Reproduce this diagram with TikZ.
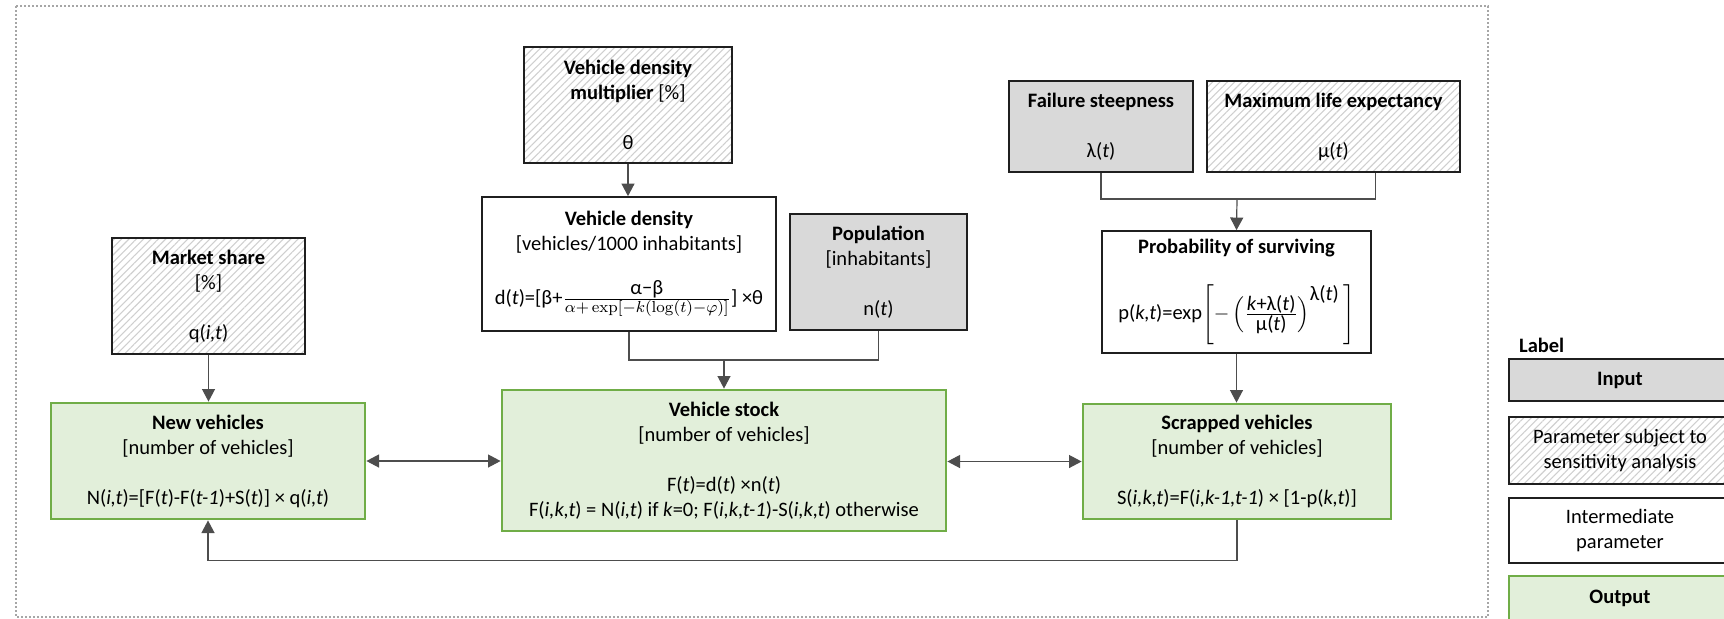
\documentclass[tikz,border=0pt]{standalone}
\usepackage{amsmath}
\usepackage[no-math]{fontspec}
\setmainfont{Carlito}
\usepackage{tikz}
\usetikzlibrary{arrows.meta}
\usetikzlibrary{patterns.meta}
\usetikzlibrary{calc}

\definecolor{inputgrey}{HTML}{D9D9D9}
\definecolor{outgreen}{HTML}{E2EFDA}
\definecolor{outborder}{HTML}{70AD47}
\definecolor{hatchgrey}{HTML}{CFCFCF}
\definecolor{framegrey}{HTML}{A6A6A6}
\definecolor{linkgrey}{HTML}{4D4D4D}

\tikzset{
  box/.style={draw=black!88, line width=0.85pt, inner sep=0pt, align=center,
    font=\fontsize{10.25pt}{12.5pt}\selectfont},
  inputbox/.style={box, fill=inputgrey},
  sensbox/.style={box, pattern={Lines[angle=45,distance=2.6pt,line width=0.55pt]},
    pattern color=hatchgrey},
  interbox/.style={box, fill=white},
  outbox/.style={box, draw=outborder, line width=1.4pt, fill=outgreen},
  link/.style={draw=linkgrey, line width=0.6pt},
}

\newcommand{\gapline}{\\[12.5pt]}

\begin{document}
\begin{tikzpicture}[x=0.5pt, y=-0.5pt, >={Triangle[length=6.3pt,width=6.5pt]}]
      \path[use as bounding box] (0, 0) rectangle (1724, 618);
      \clip (0, 0) rectangle (1724, 618);

      % frame round the model
      \draw[framegrey, line width=0.6pt, dash pattern=on 1pt off 1pt] (16, 6) rectangle (1488, 617);

      % inputs and parameters
      \node[sensbox, minimum width=104pt, minimum height=58pt] (mult) at (628, 105)
        {\textbf{Vehicle density}\\\textbf{multiplier} {[}\%{]}\gapline θ};
      \node[interbox, minimum width=147pt, minimum height=67pt] (dens) at (629, 264)
        {\textbf{Vehicle density}\\{[}vehicles/1000 inhabitants{]}\gapline
         d(\textit{t})={[}β+$\frac{\mbox{α−β}}{\mbox{\footnotesize$\alpha{+}\exp[{-}k(\log(t){-}\varphi)]$}}$] ×θ};
      \node[inputbox, minimum width=88.5pt, minimum height=58pt] (pop) at (878.5, 272)
        {\textbf{Population}\\{[}inhabitants{]}\gapline n(\textit{t})};
      \node[sensbox, minimum width=96.5pt, minimum height=58pt] (mshare) at (208.5, 296)
        {\textbf{Market share}\\{[}\%{]}\gapline q(\textit{i,t})};
      \node[inputbox, minimum width=92pt, minimum height=45.5pt] (fail) at (1101, 126.5)
        {\textbf{Failure steepness}\gapline λ(\textit{t})};
      \node[sensbox, minimum width=126.5pt, minimum height=45.5pt] (life) at (1333.5, 126.5)
        {\textbf{Maximum life expectancy}\gapline μ(\textit{t})};
      \node[interbox, minimum width=134.5pt, minimum height=61pt] (prob) at (1236.5, 292)
        {\textbf{Probability of surviving}\gapline
         p(\textit{k,t})=exp$\left[-\left(\frac{\mbox{\textit{k}+λ(\textit{t})}}{\mbox{μ(\textit{t})}}\right)^{\mbox{λ(\textit{t})}}\,\right]$};

      % outputs
      \node[outbox, minimum width=157pt, minimum height=58pt] (newv) at (208, 461)
        {\textbf{New vehicles}\\{[}number of vehicles{]}\gapline
         N(\textit{i,t})={[}F(\textit{t})-F(\textit{t-1})+S(\textit{t})] × q(\textit{i,t})};
      \node[outbox, minimum width=222pt, minimum height=70.5pt] (stock) at (724, 460.5)
        {\textbf{Vehicle stock}\\{[}number of vehicles{]}\gapline
         F(\textit{t})=d(\textit{t}) ×n(\textit{t})\\
         F(\textit{i,k,t}) = N(\textit{i,t}) if \textit{k}=0; F(\textit{i,k,t-1})-S(\textit{i,k,t}) otherwise};
      \node[outbox, minimum width=154pt, minimum height=57.5pt] (scrap) at (1237, 461.5)
        {\textbf{Scrapped vehicles}\\{[}number of vehicles{]}\gapline
         S(\textit{i,k,t})=F(\textit{i,k-1,t-1}) × {[}1-p(\textit{k,t})]};

      % connectors
      \coordinate (denspop) at (724, 360);
      \coordinate (faillife) at (1237, 199);
      \draw[link, ->] (mult.south) -- (mult.south |- dens.north);
      \draw[link] (dens.south) |- (denspop) -| (pop.south);
      \draw[link, ->] (denspop) -- (stock.north);
      \draw[link] (fail.south) |- (faillife) -| ([xshift=21pt]life.south);
      \draw[link, ->] (faillife) -- (prob.north);
      \draw[link, ->] (prob.south) -- (prob.south |- scrap.north);
      \draw[link, ->] (mshare.south) -- (mshare.south |- newv.north);
      \draw[link, <->] (newv.east) -- (newv.east -| stock.west);
      \draw[link, <->] (stock.east |- scrap.west) -- (scrap.west);
      \draw[link, ->] (scrap.south) -- ++(0, 40) -| (newv.south);

      % legend
      \node[anchor=west, font=\fontsize{10.25pt}{12.5pt}\selectfont\bfseries] (legtitle) at (1512, 345) {Label};
      \node[inputbox, minimum width=111pt, minimum height=21pt] (leginput) at (1620, 380) {\textbf{Input}};
      \node[sensbox, minimum width=111pt, minimum height=33.5pt] (legsens) at (1620, 450.5)
        {Parameter subject to\\sensitivity analysis};
      \node[interbox, minimum width=111pt, minimum height=32.5pt] (leginter) at (1620, 530.5)
        {Intermediate\\parameter};
      \node[outbox, minimum width=111pt, minimum height=22pt] (legout) at (1620, 598) {\textbf{Output}};
    \end{tikzpicture}
\end{document}
